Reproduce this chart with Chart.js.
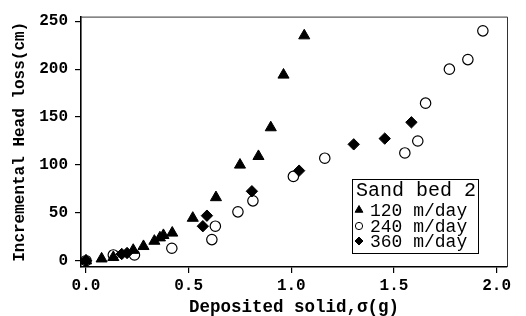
<!DOCTYPE html>
<html>
<head>
<meta charset="utf-8">
<script src="https://cdn.jsdelivr.net/npm/chart.js@4"></script>
<style>
  html, body { margin: 0; padding: 0; background: #fff; }
  #wrap { width: 526px; height: 316px; position: relative; }
</style>
</head>
<body>
<div id="wrap"><canvas id="c" width="526" height="316"></canvas></div>
<script>
// ---- data ----
const legendTitle = "Sand bed 2";
const seriesLabels = ["120 m/day", "240 m/day", "360 m/day"];

const s120x = [0, 0.076, 0.133, 0.23, 0.28, 0.333, 0.36, 0.377, 0.42, 0.52, 0.633, 0.75, 0.84, 0.90, 0.962, 1.063];
const s120y = [0, 2, 3.5, 11, 15, 20.5, 24, 26.5, 29, 44.5, 66, 100, 109, 139, 194, 235];

const s240x = [0, 0.133, 0.236, 0.418, 0.613, 0.63, 0.74, 0.813, 1.01, 1.163, 1.553, 1.616, 1.654, 1.77, 1.86, 1.933];
const s240y = [0, 6, 6, 13, 22, 36, 51, 62.5, 88, 107, 112.5, 125, 164.5, 200, 210, 240];

const s360x = [0, 0.174, 0.2, 0.569, 0.589, 0.808, 1.038, 1.304, 1.455, 1.585];
const s360y = [0, 7, 8, 36, 47, 72.5, 94, 121.5, 127.5, 144.5];

const xTicks = [0, 0.5, 1.0, 1.5, 2.0];
const yTicks = [0, 50, 100, 150, 200, 250];
const xTitle = "Deposited solid,σ(g)";
const yTitle = "Incremental Head loss(cm)";

const pts = (xs, ys) => xs.map((x, i) => ({x: x, y: ys[i]}));

const FONT = "'Liberation Mono', 'DejaVu Sans Mono', monospace";

const frame = {
  id: 'frame',
  afterDatasetsDraw(chart) {
    const {ctx, chartArea: a} = chart;
    ctx.save();
    ctx.strokeStyle = '#333';
    ctx.lineWidth = 1;
    ctx.beginPath();
    ctx.moveTo(a.left, a.top + 0.5);
    ctx.lineTo(a.right + 0.5, a.top + 0.5);
    ctx.lineTo(a.right + 0.5, a.bottom);
    ctx.stroke();
    ctx.restore();
  },
  afterDraw(chart) {
    const {ctx} = chart;
    // legend box
    const bx = 352, by = 179, bw = 126, bh = 74;
    ctx.save();
    ctx.fillStyle = '#fff';
    ctx.fillRect(bx, by, bw, bh);
    ctx.strokeStyle = '#000';
    ctx.lineWidth = 1;
    ctx.strokeRect(bx + 0.5, by + 0.5, bw, bh);
    ctx.fillStyle = '#000';
    ctx.textBaseline = 'middle';
    ctx.textAlign = 'left';
    ctx.font = "20px " + FONT;
    ctx.fillText(legendTitle, bx + 4, by + 12);
    ctx.font = "18px " + FONT;
    const rows = [by + 31, by + 47, by + 62];
    chart.data.datasets.forEach((ds, i) => {
      const y = rows[i];
      ctx.save();
      ctx.fillStyle = ds.backgroundColor;
      ctx.strokeStyle = ds.borderColor;
      ctx.lineWidth = 1;
      Chart.helpers.drawPoint(ctx, {pointStyle: ds.pointStyle, radius: ds.pointRadius * 0.7, borderWidth: 1}, bx + 7, y);
      ctx.restore();
      ctx.fillStyle = '#000';
      ctx.fillText(ds.label, bx + 18, y + 1);
    });
    ctx.restore();
  }
};

new Chart(document.getElementById('c'), {
  type: 'scatter',
  data: {
    datasets: [
      { label: seriesLabels[0], data: pts(s120x, s120y), pointStyle: 'triangle', pointRadius: 6.4, order: 2,
        backgroundColor: '#000', borderColor: '#000', borderWidth: 1 },
      { label: seriesLabels[1], data: pts(s240x, s240y), pointStyle: 'circle', pointRadius: 5.2, order: 3,
        backgroundColor: '#fff', borderColor: '#000', borderWidth: 1.2 },
      { label: seriesLabels[2], data: pts(s360x, s360y), pointStyle: 'rectRot', pointRadius: 5.7, order: 1,
        backgroundColor: '#000', borderColor: '#000', borderWidth: 1 }
    ]
  },
  options: {
    responsive: false,
    animation: false,
    devicePixelRatio: 1,
    layout: { padding: { left: 0, right: 19, top: 11, bottom: 0 } },
    plugins: { legend: { display: false }, tooltip: { enabled: false } },
    scales: {
      x: {
        type: 'linear',
        min: -0.0244, max: 2.0506,
        afterBuildTicks: (axis) => { axis.ticks = xTicks.map(v => ({value: v})); },
        afterFit: (axis) => { axis.height = 49; },
        grid: { drawOnChartArea: false, drawTicks: true, tickLength: 6, color: '#000', lineWidth: 1.2 },
        border: { display: true, color: '#000', width: 1.6 },
        ticks: { color: '#000', padding: 3.5, maxRotation: 0, font: { family: FONT, size: 16, weight: 'bold' },
                 callback: (v) => Number(v).toFixed(1) },
        title: { display: true, text: xTitle, color: '#000', padding: { top: 0, bottom: 0 },
                 font: { family: FONT, size: 17.5, weight: 'bold', lineHeight: 1.0 } }
      },
      y: {
        type: 'linear',
        min: -6.6, max: 254.9,
        afterBuildTicks: (axis) => { axis.ticks = yTicks.map(v => ({value: v})); },
        afterFit: (axis) => { axis.width = 81; },
        grid: { drawOnChartArea: false, drawTicks: true, tickLength: 6, color: '#000', lineWidth: 1.2 },
        border: { display: true, color: '#000', width: 1.6 },
        ticks: { color: '#000', padding: 7, font: { family: FONT, size: 16, weight: 'bold' } },
        title: { display: true, text: yTitle, color: '#000', padding: { top: 10, bottom: 0 },
                 font: { family: FONT, size: 16, weight: 'bold' } }
      }
    }
  },
  plugins: [frame]
});
</script>
</body>
</html>
